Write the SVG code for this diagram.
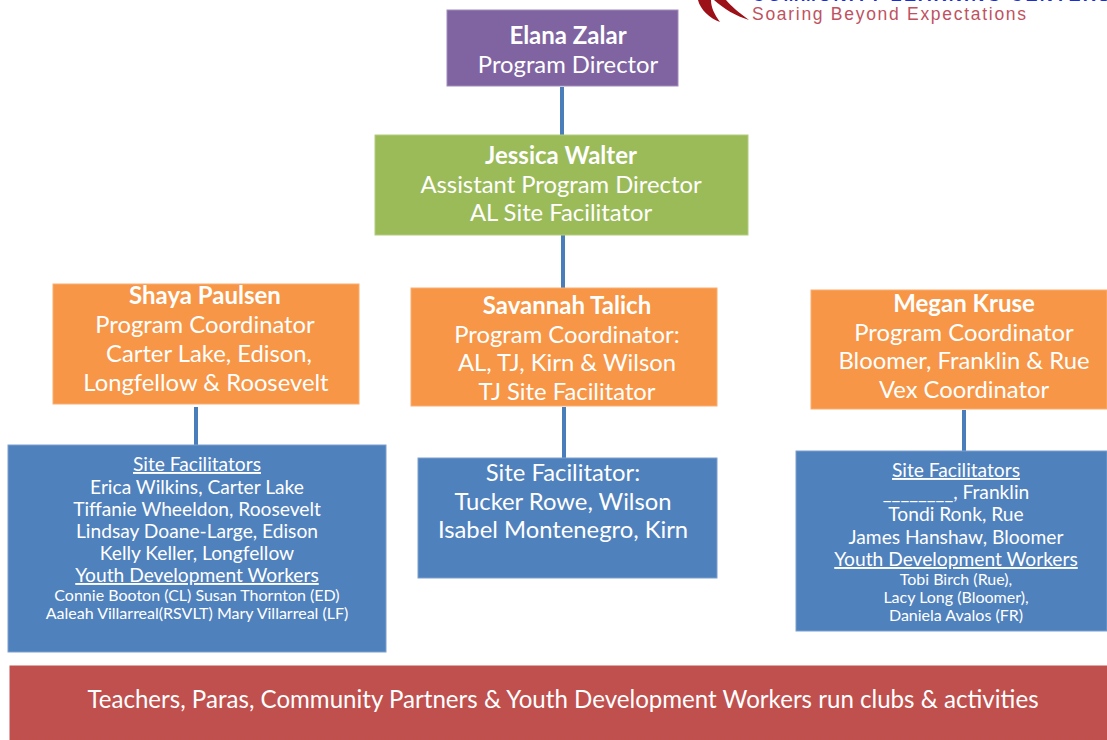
<svg xmlns="http://www.w3.org/2000/svg" width="1107" height="740" viewBox="0 0 1107 740">
<style>
text{font-family:Lato,"Open Sans",sans-serif;fill:#fff;text-anchor:middle}
.box{stroke-width:1}
.pu{fill:#8064a2;stroke:#a08bbb}.gr{fill:#9bbb59;stroke:#b3cc80}.or{fill:#f79646;stroke:#f9ae70}.bl{fill:#4f81bd;stroke:#7ba0cd}.re{fill:#c0504d;stroke:#c0504d}
.c{stroke:#4a7ebb;stroke-width:4;fill:none}
.l{font-size:23.8px}.b{font-size:24px;font-weight:700}.m{font-size:19.2px}.s{font-size:16px}
.u{text-decoration:underline}
</style>
<rect width="1107" height="740" fill="#fff"/>
<g id="logo">
<path d="M698 0C700 9 710 19 720 22C714 14 711 7 711 0ZM714 0C724 9 736 16 749 20C738 12 731 6 726 0Z" fill="#9c1018"/>
<text x="752" y="1" style="font-family:'Liberation Sans',sans-serif;font-size:18px;font-weight:700;fill:#1a2fd0;text-anchor:start" textLength="358" lengthAdjust="spacing">COMMUNITY LEARNING CENTERS</text>
<text x="752" y="20" style="font-family:'Liberation Sans',sans-serif;font-size:17.5px;fill:#c0525f;text-anchor:start" textLength="274" lengthAdjust="spacing">Soaring Beyond Expectations</text>
</g>
<g id="connectors">
<line class="c" x1="562" y1="87" x2="562" y2="135"/>
<line class="c" x1="563" y1="235" x2="563" y2="288"/>
<line class="c" x1="196" y1="407" x2="196" y2="445"/>
<line class="c" x1="564" y1="407" x2="564" y2="458"/>
<line class="c" x1="964" y1="410" x2="964" y2="451"/>
</g>
<g id="elana"><rect class="box pu" x="447" y="10" width="231" height="76"/>
<text x="568" y="44" class="b">Elana Zalar</text><text x="568" y="73" class="l">Program Director</text></g>
<g id="jessica"><rect class="box gr" x="375" y="135" width="373" height="100"/>
<text x="561" y="164" class="b">Jessica Walter</text><text x="561" y="193" class="l">Assistant Program Director</text><text x="561" y="221" class="l">AL Site Facilitator</text></g>
<g id="shaya"><rect class="box or" x="53" y="284" width="306" height="120"/>
<text x="205" y="304" class="b">Shaya Paulsen</text><text x="205" y="333" class="l">Program Coordinator</text><text x="209" y="362" class="l">Carter Lake, Edison,</text><text x="206" y="391" class="l">Longfellow &amp; Roosevelt</text></g>
<g id="savannah"><rect class="box or" x="411" y="288" width="306" height="118"/>
<text x="567" y="314" class="b">Savannah Talich</text><text x="567" y="343" class="l">Program Coordinator:</text><text x="567" y="371" class="l">AL, TJ, Kirn &amp; Wilson</text><text x="567" y="400" class="l">TJ Site Facilitator</text></g>
<g id="megan"><rect class="box or" x="811" y="290" width="296" height="119"/>
<text x="964" y="312" class="b">Megan Kruse</text><text x="964" y="341" class="l">Program Coordinator</text><text x="964" y="369" class="l">Bloomer, Franklin &amp; Rue</text><text x="964" y="398" class="l">Vex Coordinator</text></g>
<g id="shaya-team"><rect class="box bl" x="8" y="445" width="378" height="207"/>
<text x="197" y="471" class="m u">Site Facilitators</text><text x="197" y="494" class="m">Erica Wilkins, Carter Lake</text><text x="197" y="516" class="m">Tiffanie Wheeldon, Roosevelt</text><text x="197" y="538" class="m">Lindsay Doane-Large, Edison</text><text x="197" y="560" class="m">Kelly Keller, Longfellow</text><text x="197" y="582" class="m u">Youth Development Workers</text><text x="197" y="601" class="s">Connie Booton (CL) Susan Thornton (ED)</text><text x="197" y="619" class="s">Aaleah Villarreal(RSVLT) Mary Villarreal (LF)</text></g>
<g id="savannah-team"><rect class="box bl" x="418" y="458" width="299" height="120"/>
<text x="563" y="481" class="l">Site Facilitator:</text><text x="563" y="510" class="l">Tucker Rowe, Wilson</text><text x="563" y="538" class="l">Isabel Montenegro, Kirn</text></g>
<g id="megan-team"><rect class="box bl" x="796" y="451" width="311" height="180"/>
<text x="956" y="477" class="m u">Site Facilitators</text><text x="956" y="499" class="m">________, Franklin</text><text x="956" y="521" class="m">Tondi Ronk, Rue</text><text x="956" y="544" class="m">James Hanshaw, Bloomer</text><text x="956" y="566" class="m u">Youth Development Workers</text><text x="956" y="585" class="s">Tobi Birch (Rue),</text><text x="956" y="603" class="s">Lacy Long (Bloomer),</text><text x="956" y="621" class="s">Daniela Avalos (FR)</text></g>
<g id="staff"><rect class="box re" x="10" y="666" width="1097" height="74"/>
<text x="563" y="708" style="font-size:24.1px">Teachers, Paras, Community Partners &amp; Youth Development Workers run clubs &amp; activities</text></g>
</svg>
